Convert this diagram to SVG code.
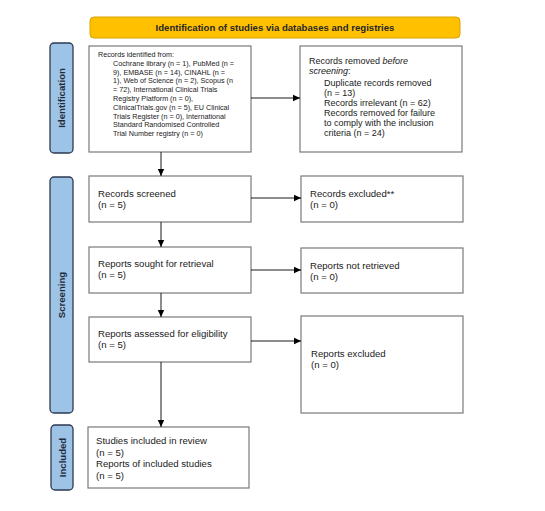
<svg xmlns="http://www.w3.org/2000/svg" width="545" height="511" viewBox="0 0 545 511">
<defs>
<marker id="ah" markerWidth="8" markerHeight="8" refX="7" refY="4" orient="auto" markerUnits="userSpaceOnUse">
<path d="M0,0.8 L7,4 L0,7.2 z" fill="#000"/>
</marker>
<style>
.box{fill:#fff;stroke:#7a7a7a;stroke-width:1.2}
.side{fill:#9dc3e6;stroke:#2e3a4f;stroke-width:1.3}
.title{fill:#ffc000;stroke:#d9a300;stroke-width:1}
.t{font-family:"Liberation Sans",Arial,sans-serif;font-size:9.6px;fill:#1a1a1a}
.m{font-family:"Liberation Sans",Arial,sans-serif;font-size:9px;fill:#1a1a1a}
.s{font-family:"Liberation Sans",Arial,sans-serif;font-size:7.2px;fill:#1a1a1a}
.b{font-family:"Liberation Sans",Arial,sans-serif;font-size:9.6px;font-weight:bold;fill:#1f2a3c}
.c{fill:none;stroke:#000;stroke-width:0.9;marker-end:url(#ah)}
</style>
</defs>
<rect width="545" height="511" fill="#fff"/>
<g id="title">
<rect class="title" x="90" y="17" width="370" height="21" rx="4"/>
<text class="b" x="275" y="31" text-anchor="middle" style="fill:#262626">Identification of studies via databases and registries</text>
</g>
<g id="side-identification">
<rect class="side" x="50" y="43" width="23" height="110" rx="4"/>
<text class="b" transform="translate(65,98) rotate(-90)" text-anchor="middle">Identification</text>
</g>
<g id="side-screening">
<rect class="side" x="50" y="177" width="23" height="236" rx="4"/>
<text class="b" transform="translate(65,295) rotate(-90)" text-anchor="middle">Screening</text>
</g>
<g id="side-included">
<rect class="side" x="51" y="425" width="22" height="65" rx="4"/>
<text class="b" transform="translate(65.5,457.5) rotate(-90)" text-anchor="middle">Included</text>
</g>
<g id="records-identified">
<rect class="box" x="89" y="46" width="162" height="106"/>
<text class="s" x="98" y="57">Records identified from:</text>
<text class="s" x="113" y="65.8">Cochrane library (n = 1), PubMed (n =</text>
<text class="s" x="113" y="74.6">9), EMBASE (n = 14), CINAHL (n =</text>
<text class="s" x="113" y="83.4">1), Web of Science (n = 2), Scopus (n</text>
<text class="s" x="113" y="92.2">= 72), International Clinical Trials</text>
<text class="s" x="113" y="101">Registry Platform (n = 0),</text>
<text class="s" x="113" y="109.8">ClinicalTrials.gov (n = 5), EU Clinical</text>
<text class="s" x="113" y="118.6">Trials Register (n = 0), International</text>
<text class="s" x="113" y="127.4">Standard Randomised Controlled</text>
<text class="s" x="113" y="136.2">Trial Number registry (n = 0)</text>
</g>
<g id="records-removed">
<rect class="box" x="300" y="46" width="162" height="106"/>
<text class="m" x="309" y="64">Records removed <tspan font-style="italic">before</tspan></text>
<text class="m" x="309" y="74"><tspan font-style="italic">screening</tspan>:</text>
<text class="m" x="324" y="85.5">Duplicate records removed</text>
<text class="m" x="324" y="95.5">(n = 13)</text>
<text class="m" x="324" y="105.5">Records irrelevant (n = 62)</text>
<text class="m" x="324" y="115.5">Records removed for failure</text>
<text class="m" x="324" y="125.5">to comply with the inclusion</text>
<text class="m" x="324" y="135.5">criteria (n = 24)</text>
</g>
<g id="records-screened">
<rect class="box" x="89" y="176" width="162" height="46"/>
<text class="t" x="98" y="197">Records screened</text>
<text class="t" x="98" y="208">(n = 5)</text>
</g>
<g id="records-excluded">
<rect class="box" x="301" y="176" width="162" height="46"/>
<text class="t" x="310" y="197">Records excluded**</text>
<text class="t" x="310" y="208">(n = 0)</text>
</g>
<g id="reports-sought">
<rect class="box" x="89" y="247" width="162" height="46"/>
<text class="t" x="98" y="267">Reports sought for retrieval</text>
<text class="t" x="98" y="278">(n = 5)</text>
</g>
<g id="reports-not-retrieved">
<rect class="box" x="301" y="248" width="162" height="45"/>
<text class="t" x="310" y="268.5">Reports not retrieved</text>
<text class="t" x="310" y="279.5">(n = 0)</text>
</g>
<g id="reports-assessed">
<rect class="box" x="89" y="317" width="162" height="45"/>
<text class="t" x="98" y="337">Reports assessed for eligibility</text>
<text class="t" x="98" y="348">(n = 5)</text>
</g>
<g id="reports-excluded">
<rect class="box" x="301" y="316" width="162" height="97"/>
<text class="t" x="311" y="357">Reports excluded</text>
<text class="t" x="311" y="368">(n = 0)</text>
</g>
<g id="studies-included">
<rect class="box" x="88" y="427" width="161" height="61"/>
<text class="t" x="96" y="444">Studies included in review</text>
<text class="t" x="96" y="455.5">(n = 5)</text>
<text class="t" x="96" y="467">Reports of included studies</text>
<text class="t" x="96" y="478.5">(n = 5)</text>
</g>
<g id="connectors">
<line class="c" x1="251" y1="98" x2="300" y2="98"/>
<line class="c" x1="161" y1="152" x2="161" y2="176"/>
<line class="c" x1="251" y1="198" x2="301" y2="198"/>
<line class="c" x1="161" y1="222" x2="161" y2="247"/>
<line class="c" x1="251" y1="270" x2="301" y2="270"/>
<line class="c" x1="161" y1="293" x2="161" y2="317"/>
<line class="c" x1="251" y1="341" x2="301" y2="341"/>
<line class="c" x1="161" y1="362" x2="161" y2="427"/>
</g>
</svg>
